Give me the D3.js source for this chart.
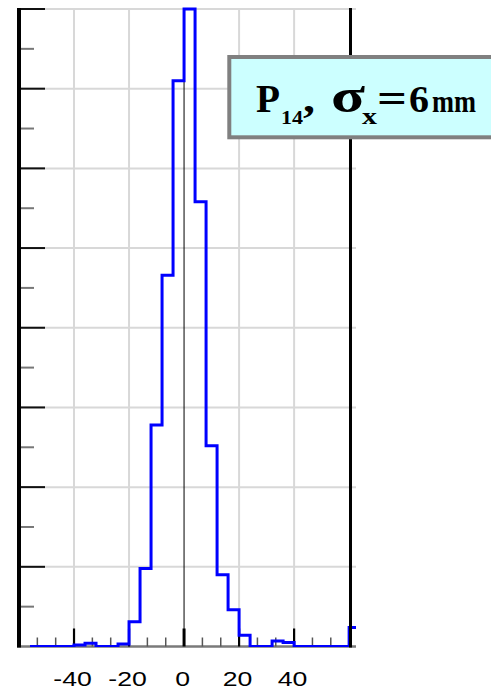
<!DOCTYPE html>
<html>
<head>
<meta charset="utf-8">
<script src="https://cdn.jsdelivr.net/npm/d3@7"></script>
<style>
  html, body { margin: 0; padding: 0; background: #fff; }
  svg { display: block; }
</style>
</head>
<body>
<svg id="chart" width="491" height="690"></svg>
<script>
// Histogram of horizontal position (mm), 4 mm bins; each entry is the bin's left edge.
const binEdges = [-56, -52, -48, -44, -40, -36, -32, -28, -24, -20, -16, -12, -8, -4,
                  0, 4, 8, 12, 16, 20, 24, 28, 32, 36, 40, 44, 48, 52, 56, 60];
const binCounts = [0, 0, 0, 0, 2, 4, 0, 0, 3, 31, 98, 278, 466, 710,
                   800, 558, 252, 90, 46, 14, 0, 0, 7, 5, 0, 0, 0, 0, 0, 24];
const binWidth = 4;

// Axis ticks
const xMajorTicks = [-40, -20, 0, 20, 40];
const xTickLabels = ["-40", "-20", "0", "20", "40"];
const yMajorTicks = [100, 200, 300, 400, 500, 600, 700, 800];

const svg = d3.select("#chart");

const x = d3.scaleLinear().domain([-60, 60.5]).range([19, 350.5]);
const y = d3.scaleLinear().domain([0, 800]).range([646.5, 9]);

const plotRight = 356;
const gridColor = "#d8d8d8";

// Clip region for the histogram (extends slightly past the right axis)
svg.append("defs").append("clipPath").attr("id", "plotClip")
  .append("rect").attr("x", 17).attr("y", 0).attr("width", plotRight - 17).attr("height", 647);

// Horizontal grid lines
svg.append("g").selectAll("line").data(yMajorTicks).join("line")
  .attr("x1", x(-60)).attr("x2", plotRight)
  .attr("y1", d => y(d)).attr("y2", d => y(d))
  .attr("stroke", gridColor).attr("stroke-width", 2);

// Vertical grid lines
svg.append("g").selectAll("line").data(xMajorTicks.filter(d => d !== 0)).join("line")
  .attr("x1", d => x(d)).attr("x2", d => x(d))
  .attr("y1", y(800)).attr("y2", y(0))
  .attr("stroke", gridColor).attr("stroke-width", 2);

// Zero line
svg.append("line")
  .attr("x1", x(0)).attr("x2", x(0)).attr("y1", y(800)).attr("y2", y(0))
  .attr("stroke", "#000").attr("stroke-width", 1);

// Bottom axis baseline
svg.append("line")
  .attr("x1", 17).attr("x2", plotRight).attr("y1", y(0)).attr("y2", y(0))
  .attr("stroke", "#7a7a7a").attr("stroke-width", 2.5);

// Bottom minor ticks every 20/3 mm (skipping the major positions)
const xMinor = d3.range(-60, 61, 20 / 3)
  .filter(d => Math.abs(d / 20 - Math.round(d / 20)) > 1e-6);
svg.append("g").selectAll("line").data(xMinor).join("line")
  .attr("x1", d => x(d)).attr("x2", d => x(d))
  .attr("y1", y(0) - 9).attr("y2", y(0))
  .attr("stroke", "#555").attr("stroke-width", 1.5);

// Bottom major ticks
svg.append("g").selectAll("line").data(xMajorTicks).join("line")
  .attr("x1", d => x(d)).attr("x2", d => x(d))
  .attr("y1", y(0) - 18).attr("y2", y(0))
  .attr("stroke", "#000").attr("stroke-width", d => d === 0 ? 3 : 2.2);

// Left minor ticks
svg.append("g").selectAll("line").data(d3.range(50, 800, 100)).join("line")
  .attr("x1", x(-60)).attr("x2", x(-60) + 15)
  .attr("y1", d => y(d)).attr("y2", d => y(d))
  .attr("stroke", "#777").attr("stroke-width", 2);

// Left major ticks
svg.append("g").selectAll("line").data(yMajorTicks).join("line")
  .attr("x1", x(-60)).attr("x2", x(-60) + 26)
  .attr("y1", d => y(d)).attr("y2", d => y(d))
  .attr("stroke", "#111").attr("stroke-width", 2);

// Histogram step outline
const steps = [];
binEdges.forEach((e, i) => {
  steps.push([e, binCounts[i]]);
  steps.push([e + binWidth, binCounts[i]]);
});
const line = d3.line().x(d => x(d[0])).y(d => y(d[1]));
const pathPts = [[binEdges[0], 0], ...steps];
svg.append("path")
  .attr("clip-path", "url(#plotClip)")
  .attr("d", line(pathPts))
  .attr("fill", "none")
  .attr("stroke", "#0000ff")
  .attr("stroke-width", 3)
  .attr("stroke-linejoin", "miter");

// Left and right axis lines
svg.append("line")
  .attr("x1", x(-60)).attr("x2", x(-60)).attr("y1", 8).attr("y2", 647.5)
  .attr("stroke", "#000").attr("stroke-width", 4);
svg.append("line")
  .attr("x1", x(60.5)).attr("x2", x(60.5)).attr("y1", 8).attr("y2", 647.5)
  .attr("stroke", "#000").attr("stroke-width", 3);

// Tick labels
svg.append("g").selectAll("text").data(xMajorTicks).join("text")
  .attr("transform", d => `translate(${x(d) - 1.5},686) scale(1.3,1)`)
  .attr("text-anchor", "middle")
  .attr("font-family", "'Liberation Sans', Arial, sans-serif")
  .attr("font-size", 20.5)
  .attr("fill", "#000")
  .text((d, i) => xTickLabels[i]);

// Title box
svg.append("rect")
  .attr("x", 229.3).attr("y", 57).attr("width", 300).attr("height", 80.3)
  .attr("fill", "#ccffff").attr("stroke", "#808080").attr("stroke-width", 4);

const title = svg.append("g")
  .attr("font-family", "'Liberation Serif', 'Times New Roman', serif")
  .attr("font-weight", "bold")
  .attr("fill", "#000");

const titleParts = [
  { t: "P",  x: 256, y: 112,   s: 41, w: 24 },
  { t: "14", x: 281, y: 123.5, s: 19, w: 22 },
  { t: ",",  x: 303, y: 112,   s: 41, w: 12 },
  { t: "σ",  x: 331, y: 112,   s: 48, w: 34 },
  { t: "x",  x: 362, y: 123.5, s: 24, w: 15 },
  { t: "=",  x: 377, y: 112,   s: 42, w: 30 },
  { t: "6",  x: 409, y: 112,   s: 38, w: 20 },
  { t: "mm", x: 432, y: 112,   s: 31, w: 44 }
];
titleParts.forEach(p => {
  title.append("text")
    .attr("x", p.x).attr("y", p.y)
    .attr("font-size", p.s)
    .attr("textLength", p.w)
    .attr("lengthAdjust", "spacingAndGlyphs")
    .text(p.t);
});
</script>
</body>
</html>
